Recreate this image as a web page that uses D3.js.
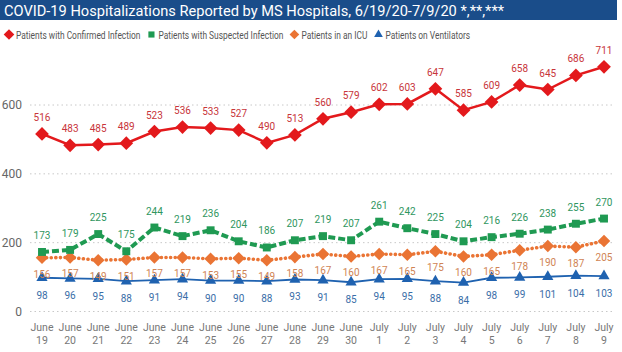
<!DOCTYPE html>
<html lang="en">
<head>
    <meta charset="UTF-8">
    <title>COVID-19 Hospitalizations Reported by MS Hospitals</title>
    <script src="https://d3js.org/d3.v7.min.js"></script>
    <style>
        body {
            margin: 0;
            background: #fff;
            font-family: Roboto, "Noto Sans", sans-serif;
        }
        svg { display: block; }
        .grid line {
            stroke: #c8c8c8;
            stroke-dasharray: 1.5, 3;
        }
        .ylab { fill: #666; font-size: 12px; }
        .xlab { fill: #777; font-size: 10.5px; }
        .vlab { font-size: 10px; }
    </style>
</head>
<body>
<svg width="622" height="352"></svg>
<script>
    const days = ["June 19", "June 20", "June 21", "June 22", "June 23", "June 24", "June 25",
        "June 26", "June 27", "June 28", "June 29", "June 30", "July 1", "July 2", "July 3",
        "July 4", "July 5", "July 6", "July 7", "July 8", "July 9"];
    const confirmed = [516, 483, 485, 489, 523, 536, 533, 527, 490, 513, 560, 579, 602, 603, 647, 585, 609, 658, 645, 686, 711];
    const suspected = [173, 179, 225, 175, 244, 219, 236, 204, 186, 207, 219, 207, 261, 242, 225, 204, 216, 226, 238, 255, 270];
    const icu = [156, 157, 149, 151, 157, 157, 153, 155, 149, 158, 167, 160, 167, 165, 175, 160, 165, 178, 190, 187, 205];
    const ventilators = [98, 96, 95, 88, 91, 94, 90, 90, 88, 93, 91, 85, 94, 95, 88, 84, 98, 99, 101, 104, 103];
    const yTicks = [0, 200, 400, 600];

    const series = [
        {name: "Patients with Confirmed Infection", values: confirmed, color: "#e3191c", text: "#c8353a",
         dash: null, width: 2.5, symbol: d3.symbolDiamond2, size: 120, labelDy: -13},
        {name: "Patients with Suspected Infection", values: suspected, color: "#1f9a52", text: "#2f9660",
         dash: "7,3", width: 4, symbol: d3.symbolSquare2, size: 80, labelDy: -13},
        {name: "Patients in an ICU", values: icu, color: "#ea7434", text: "#d08454",
         dash: "0.1,4.5", width: 3.6, symbol: d3.symbolDiamond2, size: 100, labelDy: 20},
        {name: "Patients on Ventilators", values: ventilators, color: "#1f62b0", text: "#3a6ea8",
         dash: null, width: 1.8, symbol: d3.symbolTriangle2, size: 90, labelDy: 21}
    ];

    const svg = d3.select("svg");

    // title bar
    svg.append("rect")
        .attr("x", 0).attr("y", 0)
        .attr("width", 617).attr("height", 20)
        .attr("fill", "#1a4d8a");
    svg.append("text")
        .attr("x", 4).attr("y", 15.5)
        .attr("fill", "#fff")
        .attr("font-size", 15.5)
        .attr("textLength", 500)
        .attr("lengthAdjust", "spacingAndGlyphs")
        .text("COVID-19 Hospitalizations Reported by MS Hospitals, 6/19/20-7/9/20 *,**,***");

    // legend (text squeezed horizontally, the original uses a condensed face)
    const squeeze = 0.8;
    const legend = svg.append("g").attr("transform", "translate(5, 35)");
    let lx = 0;
    series.forEach(s => {
        const item = legend.append("g").attr("transform", `translate(${lx}, 0)`);
        item.append("path")
            .attr("transform", "translate(4, -0.5)")
            .attr("d", d3.symbol(s.symbol, s.size * 0.6)())
            .attr("fill", s.color);
        const t = item.append("text")
            .attr("transform", `translate(11, 4) scale(${squeeze}, 1)`)
            .attr("fill", "#555")
            .attr("font-size", 10.5)
            .text(s.name);
        const w = t.node().getComputedTextLength() * squeeze;
        lx += 11 + w + 7;
    });

    const x = d3.scalePoint()
        .domain(days)
        .range([42, 604]);

    const y = d3.scaleLinear()
        .domain([0, 600])
        .range([311.5, 105]);

    // gridlines
    svg.append("g")
        .attr("class", "grid")
        .selectAll("line")
        .data(yTicks)
        .join("line")
        .attr("x1", 30).attr("x2", 615)
        .attr("y1", d => y(d)).attr("y2", d => y(d));

    svg.append("g")
        .selectAll("text")
        .data(yTicks)
        .join("text")
        .attr("class", "ylab")
        .attr("x", 22).attr("y", d => y(d) + 4)
        .attr("text-anchor", "end")
        .text(d => d);

    // x labels (two lines)
    const xl = svg.append("g")
        .selectAll("text")
        .data(days)
        .join("text")
        .attr("class", "xlab")
        .attr("text-anchor", "middle")
        .attr("x", d => x(d));
    xl.append("tspan").attr("x", d => x(d)).attr("y", 331).text(d => d.split(" ")[0]);
    xl.append("tspan").attr("x", d => x(d)).attr("y", 344).text(d => d.split(" ")[1]);

    const line = d3.line()
        .x((d, i) => x(days[i]))
        .y(d => y(d));

    // draw from back to front
    [...series].reverse().forEach(s => {
        svg.append("path")
            .datum(s.values)
            .attr("fill", "none")
            .attr("stroke", s.color)
            .attr("stroke-width", s.width)
            .attr("stroke-dasharray", s.dash)
            .attr("stroke-linecap", s.dash && s.dash.startsWith("0.1") ? "round" : "butt")
            .attr("d", line);

        svg.append("g")
            .selectAll("path")
            .data(s.values)
            .join("path")
            .attr("transform", (d, i) => `translate(${x(days[i])}, ${y(d)})`)
            .attr("d", d3.symbol(s.symbol, s.size)())
            .attr("fill", s.color);
    });

    series.forEach(s => {
        svg.append("g")
            .selectAll("text")
            .data(s.values)
            .join("text")
            .attr("class", "vlab")
            .attr("text-anchor", "middle")
            .attr("fill", s.text)
            .attr("x", (d, i) => x(days[i]))
            .attr("y", d => y(d) + s.labelDy)
            .text(d => d);
    });
</script>
</body>
</html>
